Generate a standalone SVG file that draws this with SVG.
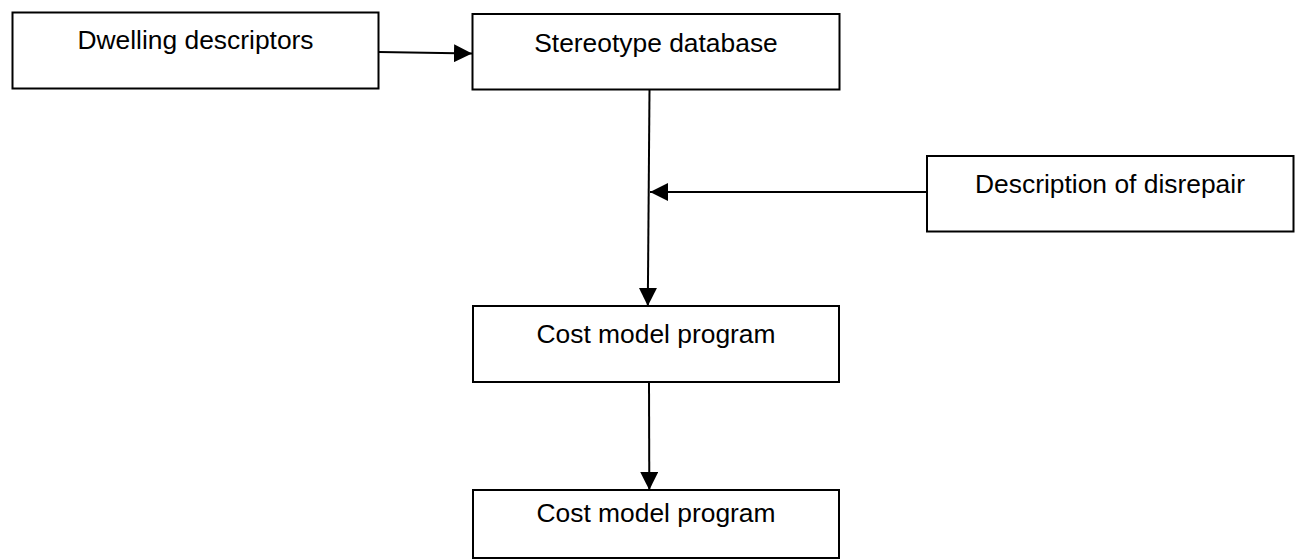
<svg xmlns="http://www.w3.org/2000/svg" width="1298" height="560" viewBox="0 0 1298 560">
<style>
.box{fill:#ffffff;stroke:#000000;stroke-width:2}
.lbl{font-family:"Liberation Sans",Arial,sans-serif;font-size:26.4px;fill:#000000;text-anchor:middle}
.edge{fill:none;stroke:#000000;stroke-width:2}
</style>
<defs>
<marker id="arr" markerUnits="userSpaceOnUse" markerWidth="18" markerHeight="18" viewBox="0 0 16 16" refX="16" refY="8" orient="auto">
<path d="M0,0 L16,8 L0,16 Z" fill="#000000"/>
</marker>
</defs>
<rect width="1298" height="560" fill="#ffffff"/>
<g id="connectors">
<line class="edge" x1="379" y1="52" x2="472" y2="53.5" marker-end="url(#arr)"/>
<line class="edge" x1="649.5" y1="90" x2="647.8" y2="306" marker-end="url(#arr)"/>
<line class="edge" x1="927" y1="192" x2="650" y2="192" marker-end="url(#arr)"/>
<line class="edge" x1="649" y1="382" x2="649.3" y2="490" marker-end="url(#arr)"/>
</g>
<g id="dwelling">
<rect class="box" x="12.5" y="12.5" width="366" height="76"/>
<text class="lbl" x="195.5" y="49.3">Dwelling descriptors</text>
</g>
<g id="stereotype">
<rect class="box" x="472.5" y="14" width="367" height="75.5"/>
<text class="lbl" x="656" y="51.7">Stereotype database</text>
</g>
<g id="disrepair">
<rect class="box" x="927" y="156" width="366.5" height="75.5"/>
<text class="lbl" x="1110" y="193.3">Description of disrepair</text>
</g>
<g id="costmodel1">
<rect class="box" x="473" y="306" width="366" height="76"/>
<text class="lbl" x="656" y="343.3">Cost model program</text>
</g>
<g id="costmodel2">
<rect class="box" x="473" y="490" width="366" height="68"/>
<text class="lbl" x="656" y="521.7">Cost model program</text>
</g>
</svg>
